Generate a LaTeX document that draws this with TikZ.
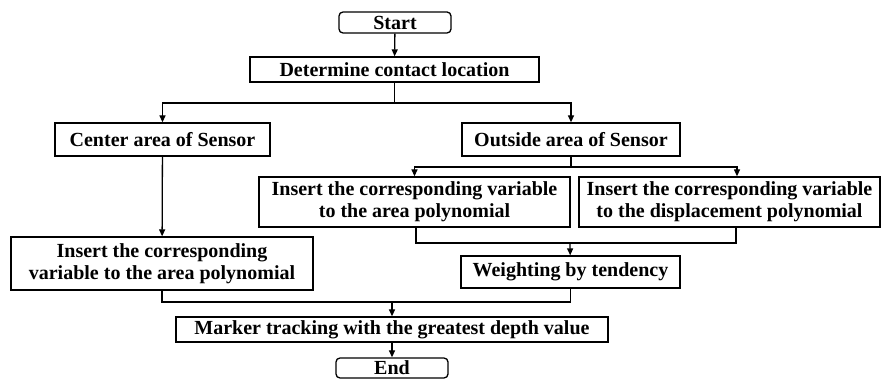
\documentclass[tikz,border=0pt]{standalone}
\usepackage{fontspec}
\setmainfont{Liberation Serif}
\usetikzlibrary{arrows.meta}
\begin{document}
\begin{tikzpicture}[x=1pt,y=-1pt,
  box/.style={draw,line width=1.3pt,inner sep=0pt,align=center,
    font=\fontsize{20}{22}\selectfont\bfseries},
  term/.style={box,rounded corners=4pt},
  conn/.style={line width=1.3pt},
  arr/.style={conn,-{Triangle[length=7pt,width=6pt]}}]
\useasboundingbox (0,0) rectangle (881,379);
\node[term,minimum width=112pt,minimum height=21pt] (start) at (395,22.5) {Start};
\node[box,minimum width=289pt,minimum height=25pt] (det) at (394.5,69.5) {Determine contact location};
\node[box,minimum width=215pt,minimum height=33pt] (center) at (162.5,139.5) {Center area of Sensor};
\node[box,minimum width=218pt,minimum height=33pt] (outside) at (571,139.5) {Outside area of Sensor};
\node[box,minimum width=311pt,minimum height=50pt] (insA) at (414.5,202) {Insert the corresponding variable\\to the area polynomial};
\node[box,minimum width=301pt,minimum height=50pt] (insD) at (729.5,202) {Insert the corresponding variable\\to the displacement polynomial};
\node[box,minimum width=302pt,minimum height=53pt] (insL) at (162,263.5) {Insert the corresponding\\variable to the area polynomial};
\node[box,minimum width=219pt,minimum height=32pt] (weight) at (570.5,272) {Weighting by tendency};
\node[box,minimum width=432pt,minimum height=25pt] (marker) at (392,329.5) {Marker tracking with the greatest depth value};
\node[term,minimum width=112pt,minimum height=20pt] (end) at (392,368) {End};
\coordinate (j1) at (394.5,103);
\coordinate (j2) at (571,167);
\coordinate (j3) at (570,243);
\coordinate (j4) at (392,302);
\draw[arr] (start) -- (det);
\draw[conn] (det) -- (j1);
\draw[arr] (j1) -| (center);
\draw[arr] (j1) -| (outside);
\draw[arr] (center) -- (insL);
\draw[conn] (outside) -- (j2);
\draw[arr] (j2) -| (insA);
\draw[arr] (j2) -| ([xshift=7.5pt]insD.north);
\draw[conn] ([xshift=1.5pt]insA.south) |- (j3);
\draw[conn] ([xshift=6.5pt]insD.south) |- (j3);
\draw[arr] (j3) -- (weight);
\draw[conn] (insL.south) |- (j4);
\draw[conn] (weight.south) |- (j4);
\draw[arr] (j4) -- (marker);
\draw[arr] (marker) -- (end);
\end{tikzpicture}
\end{document}
